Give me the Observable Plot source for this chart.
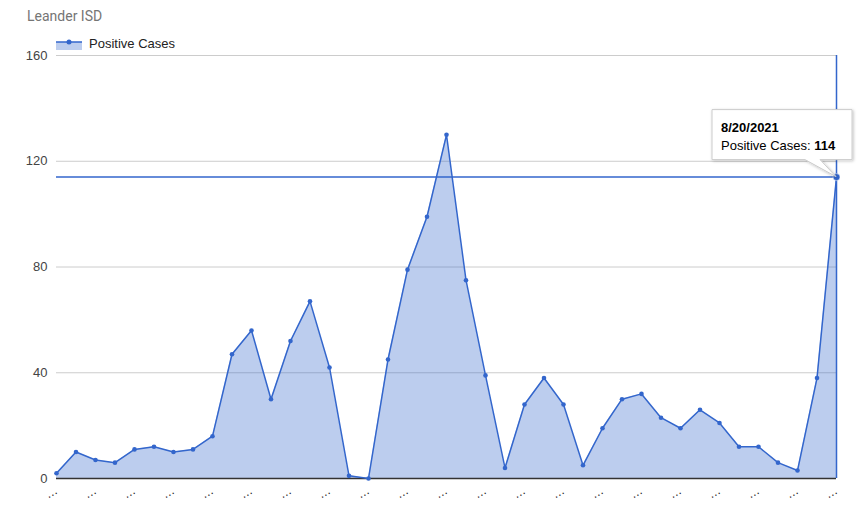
<!DOCTYPE html>
<html>
<head>
<meta charset="utf-8">
<script src="https://cdn.jsdelivr.net/npm/d3@7"></script>
<script src="https://cdn.jsdelivr.net/npm/@observablehq/plot@0.6"></script>
<style>
  html, body { margin: 0; padding: 0; background: #fff; }
  #wrap { position: relative; width: 858px; height: 511px; font-family: Arial, "Liberation Sans", sans-serif; }
  #title { position: absolute; left: 27px; top: 8px; font-family: Roboto, Arial, sans-serif; font-size: 14px; color: #757575; }
  #legend { position: absolute; left: 56px; top: 36px; font-size: 13px; color: #222; display: flex; align-items: center; }
  #legend svg { margin-right: 7px; }
  #chart { position: absolute; left: 0; top: 0; }
  #tip { position: absolute; left: 0; top: 0; pointer-events: none; }
</style>
</head>
<body>
<div id="wrap">
  <div id="chart"></div>
  <div id="title">Leander ISD</div>
  <div id="legend">
    <svg width="26" height="14">
      <rect x="0" y="5" width="26" height="8" fill="#3366cc" fill-opacity="0.33"></rect>
      <line x1="0" y1="5" x2="26" y2="5" stroke="#3366cc" stroke-width="1.5"></line>
      <circle cx="13" cy="5" r="2.5" fill="#3366cc"></circle>
    </svg>
    <span>Positive Cases</span>
  </div>
</div>
<script>
const dates = [
  "11/13/2020","11/20/2020","11/27/2020","12/4/2020","12/11/2020","12/18/2020","12/25/2020",
  "1/1/2021","1/8/2021","1/15/2021","1/22/2021","1/29/2021","2/5/2021","2/12/2021",
  "2/19/2021","2/26/2021","3/5/2021","3/12/2021","3/19/2021","3/26/2021","4/2/2021",
  "4/9/2021","4/16/2021","4/23/2021","4/30/2021","5/7/2021","5/14/2021","5/21/2021",
  "5/28/2021","6/4/2021","6/11/2021","6/18/2021","6/25/2021","7/2/2021","7/9/2021",
  "7/16/2021","7/23/2021","7/30/2021","8/6/2021","8/13/2021","8/20/2021"
];
const positiveCases = [
  2, 10, 7, 6, 11, 12, 10, 11, 16, 47, 56, 30, 52, 67, 42, 1, 0,
  45, 79, 99, 130, 75, 39, 4, 28, 38, 28, 5, 19, 30, 32, 23, 19,
  26, 21, 12, 12, 6, 3, 38, 114
];
const yTicks = [0, 40, 80, 120, 160];
const seriesName = "Positive Cases";
const highlightIndex = dates.length - 1;

const data = dates.map((d, i) => ({date: d, cases: positiveCases[i]}));
const xTicks = dates.filter((d, i) => i % 2 === 0);
const hi = data[highlightIndex];

const W = 858, H = 511;

const plot = Plot.plot({
  width: W,
  height: H,
  marginTop: 55,
  marginBottom: 33,
  marginLeft: 56,
  marginRight: 22,
  style: {fontFamily: "Arial, 'Liberation Sans', sans-serif", fontSize: "13px", color: "#444", background: "#fff"},
  x: {type: "point", domain: dates, padding: 0, round: false, label: null},
  y: {domain: [0, 160], label: null},
  marks: [
    Plot.gridY(yTicks.slice(1), {stroke: "#ccc", strokeOpacity: 1, strokeWidth: 1}),
    Plot.axisY(yTicks, {tickSize: 0, tickPadding: 9, fontSize: 13, fill: "#444", label: null}),
    Plot.axisX(xTicks, {tickSize: 0, tickFormat: () => "\u2026", tickRotate: -30, tickPadding: 11, fontSize: 12, fill: "#111", label: null}),
    Plot.areaY(data, {x: "date", y: "cases", fill: "#3366cc", fillOpacity: 0.33}),
    Plot.ruleY([0], {stroke: "#333", strokeWidth: 1.5}),
    Plot.ruleY([hi.cases], {stroke: "#3366cc", strokeWidth: 1.5}),
    Plot.ruleX([hi.date], {y1: 0, y2: 160, stroke: "#3366cc", strokeWidth: 1.5}),
    Plot.lineY(data, {x: "date", y: "cases", stroke: "#3366cc", strokeWidth: 1.5}),
    Plot.dot(data, {x: "date", y: "cases", r: 2.3, fill: "#3366cc", stroke: "none"}),
    Plot.dot([hi], {x: "date", y: "cases", r: 3.5, fill: "#3366cc", stroke: "#fff", strokeOpacity: 0.5, strokeWidth: 1})
  ]
});
document.getElementById("chart").appendChild(plot);

// Tooltip positioned from the library's scales
const px = plot.scale("x").apply(hi.date);
const py = plot.scale("y").apply(hi.cases);
const boxL = px - 124, boxR = px + 16, boxT = py - 67, boxB = py - 17;
const ns = "http://www.w3.org/2000/svg";
const tip = document.createElementNS(ns, "svg");
tip.setAttribute("id", "tip");
tip.setAttribute("width", W);
tip.setAttribute("height", H);
tip.innerHTML = `
  <defs>
    <filter id="sh" x="-20%" y="-20%" width="140%" height="160%">
      <feDropShadow dx="1" dy="1" stdDeviation="1.5" flood-color="#000" flood-opacity="0.25"/>
    </filter>
  </defs>
  <path d="M${boxL},${boxT} H${boxR} V${boxB} H${px - 16} L${px},${py} L${px - 31},${boxB} H${boxL} Z"
        fill="#fff" stroke="#ccc" stroke-width="1" filter="url(#sh)"/>
  <text x="${boxL + 9}" y="${boxT + 22}" font-family="Arial, 'Liberation Sans', sans-serif" font-size="13" font-weight="bold" fill="#000">${hi.date}</text>
  <text x="${boxL + 9}" y="${boxT + 40}" font-family="Arial, 'Liberation Sans', sans-serif" font-size="13" fill="#000">${seriesName}: <tspan font-weight="bold">${hi.cases}</tspan></text>
`;
document.getElementById("wrap").appendChild(tip);
</script>
</body>
</html>
